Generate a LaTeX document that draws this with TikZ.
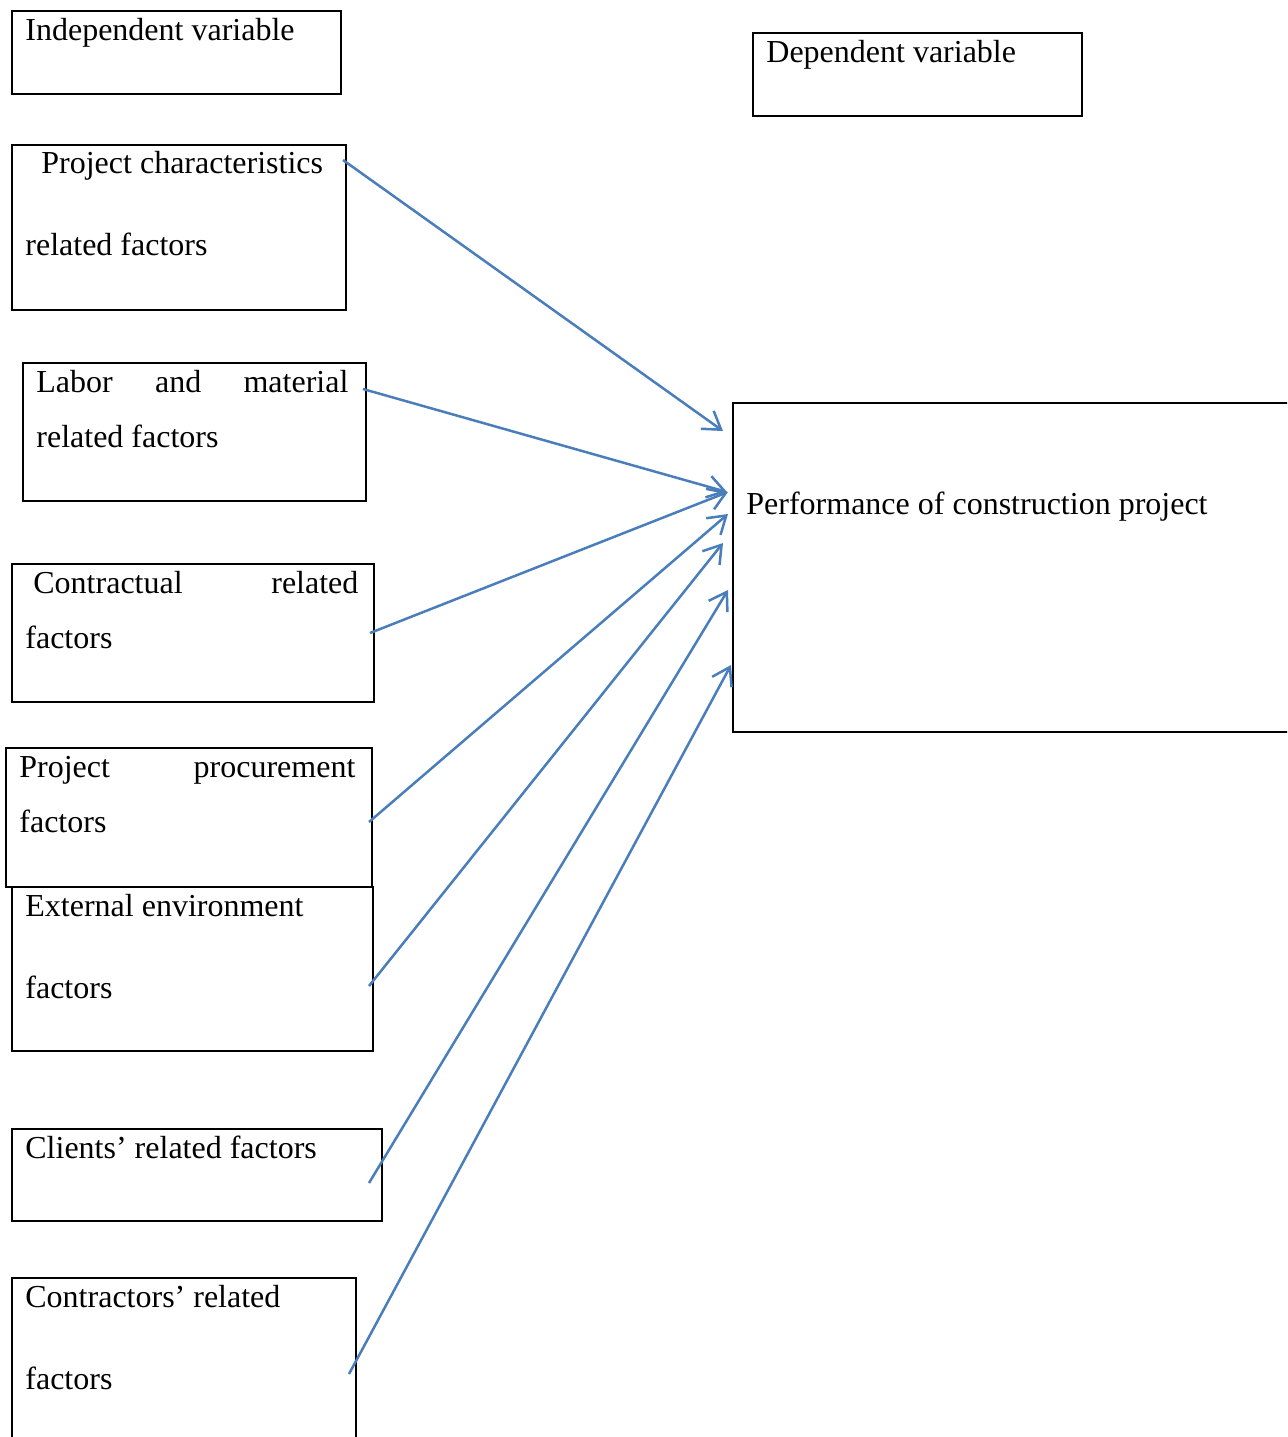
\documentclass[tikz,border=0pt]{standalone}
\usepackage{fontspec}
\setmainfont{Liberation Serif}
\usetikzlibrary{positioning,arrows.meta}
\definecolor{arrblue}{HTML}{4A7EBB}
\tikzset{vbox/.style={draw,line width=1pt,anchor=north west,inner sep=0pt},
	 vtext/.style={anchor=base west,inner sep=0pt,align=flush left,font=\fontsize{16}{27.5}\selectfont},
	 wide/.style={font=\fontsize{16}{41}\selectfont},
	 link/.style={arrblue,line width=1.25pt,-{Straight Barb[length=8.5pt,width=11pt]}}
	 }

\begin{document}
\begin{tikzpicture}[x=0.5pt,y=-0.5pt] % variables of the study
	\useasboundingbox (0,0) rectangle (1287,1437);
	\clip (0,0) rectangle (1287,1437);
	% boxes
	\node[vbox,minimum width=164.5pt,minimum height=41.5pt] (iv) at (11,10) {};
	\node[vbox,minimum width=164.5pt,minimum height=41.5pt] (dv) at (752,32) {};
	\node[vbox,minimum width=167pt,minimum height=82.5pt] (f1) at (11,144) {};
	\node[vbox,minimum width=171.5pt,minimum height=69pt] (f2) at (22,362) {};
	\node[vbox,minimum width=181pt,minimum height=69pt] (f3) at (11,563) {};
	\node[vbox,minimum width=183pt,minimum height=69.5pt] (f4) at (5,747) {};
	\node[vbox,minimum width=180.5pt,minimum height=82pt] (f5) at (11,886) {};
	\node[vbox,minimum width=185pt,minimum height=46pt] (f6) at (11,1128) {};
	\node[vbox,minimum width=172pt,minimum height=100pt] (f7) at (11,1277) {};
	\node[vbox,minimum width=300pt,minimum height=164.5pt] (perf) at (732,402) {};
	% texts
	\node[vtext] (tiv) at (25,40) {Independent variable};
	\node[vtext] (tdv) at (766,62) {Dependent variable};
	\node[vtext,wide,text width=160pt] (t1) at (25,173) {\hspace*{8pt}Project characteristics\\related factors};
	\node[vtext,text width=156pt] (t2) at (36,392) {Labor\hfill and\hfill material\\related factors};
	\node[vtext,text width=166.5pt] (t3) at (25,593) {\hspace*{4pt}Contractual\hfill related\\factors};
	\node[vtext,text width=168pt] (t4) at (19,777) {Project\hfill procurement\\factors};
	\node[vtext,wide,text width=160pt] (t5) at (25,916) {External environment\\factors};
	\node[vtext] (t6) at (25,1158) {Clients’ related factors};
	\node[vtext,wide,text width=160pt] (t7) at (25,1307) {Contractors’ related\\factors};
	\node[vtext] (tperf) at (746,514) {Performance of construction project};
	% arrow ends
	\coordinate (s1) at (343,160); \coordinate (e1) at (723,431);
	\coordinate (s2) at (363,389); \coordinate (e2) at (727,492);
	\coordinate (s3) at (370,633); \coordinate (e3) at (728,492);
	\coordinate (s4) at (369,822); \coordinate (e4) at (728,514);
	\coordinate (s5) at (369,986); \coordinate (e5) at (723,543);
	\coordinate (s6) at (369,1183); \coordinate (e6) at (728,590);
	\coordinate (s7) at (349,1374); \coordinate (e7) at (731,665);
	\draw[link] (s1) to (e1);
	\draw[link] (s2) to (e2);
	\draw[link] (s3) to (e3);
	\draw[link] (s4) to (e4);
	\draw[link] (s5) to (e5);
	\draw[link] (s6) to (e6);
	\draw[link] (s7) to (e7);
\end{tikzpicture}
\end{document}
